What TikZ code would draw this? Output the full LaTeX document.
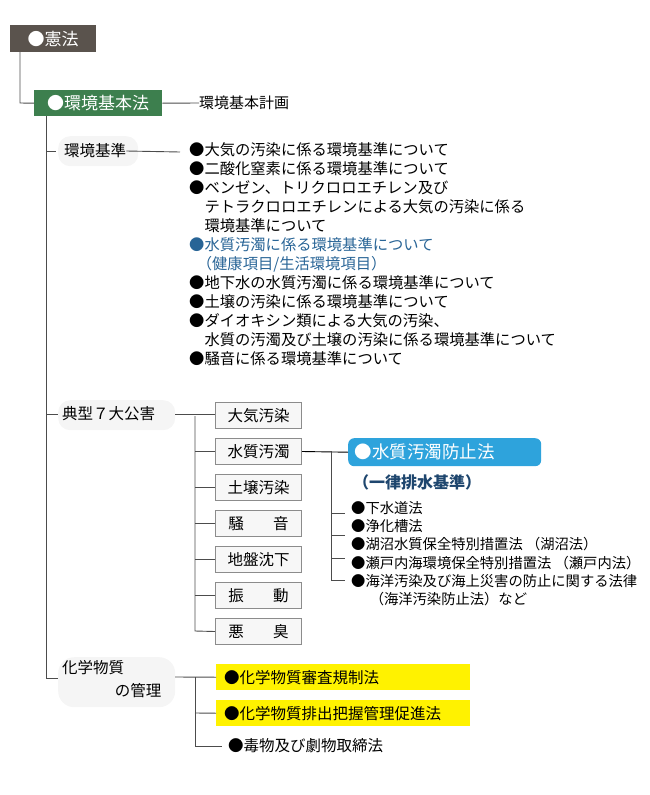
\documentclass[tikz,border=0pt]{standalone}
\usepackage{fontspec}
\setmainfont{Noto Sans CJK JP}
\begin{document}
\begin{tikzpicture}[x=1pt,y=-1pt,font=\fontsize{15.5}{17}\selectfont,
  ln/.style={draw=black!70,line width=0.9pt},
  pill/.style={fill=black!4,rounded corners=12pt,anchor=north west},
  kbox/.style={draw=black!45,fill=black!3,line width=1pt,minimum width=86pt,minimum height=26pt,anchor=north west,inner sep=0pt},
  ybox/.style={fill=yellow,minimum width=254pt,minimum height=26pt,anchor=north west,inner sep=0pt,text width=238pt},
  it/.style={anchor=west,inner sep=0pt}]
\useasboundingbox (0,0) rectangle (650,795);
\node[fill={rgb,255:red,90;green,83;blue,77},text=white,minimum width=86pt,minimum height=27pt,anchor=north west,inner sep=0pt,font=\fontsize{17}{19}\selectfont] (kenpo) at (10,25) {●憲法};
\node[fill={rgb,255:red,61;green,127;blue,78},text=white,minimum width=128pt,minimum height=26pt,anchor=north west,inner sep=0pt,font=\fontsize{17}{19}\selectfont] (kihon) at (34,90) {●環境基本法};
\node[it,font=\fontsize{15}{17}\selectfont] (keikaku) at (199,103) {環境基本計画};
\draw[ln] (20,52) -- (20,103) -- (kihon.west);
\draw[ln] (kihon.east) -- (keikaku.west);
\draw[ln] (46,116) -- (46,678);
% 環境基準
\node[pill,minimum width=80pt,minimum height=30pt] (kijun) at (58,136) {};
\node[it] (kijunt) at (64,151) {環境基準};
\draw[ln] (46,151) -- (56,151);
\draw[ln] (kijunt.east) -- (180,152);
\node[it,anchor=north west,align=left,font=\fontsize{15.3}{19}\selectfont] (list) at (189,142) {●大気の汚染に係る環境基準について\\●二酸化窒素に係る環境基準について\\●ベンゼン、トリクロロエチレン及び\\\hspace{1em}テトラクロロエチレンによる大気の汚染に係る\\\hspace{1em}環境基準について\\\textcolor[RGB]{40,100,150}{●水質汚濁に係る環境基準について}\\\textcolor[RGB]{40,100,150}{\hspace{0.5em}（健康項目/生活環境項目）}\\●地下水の水質汚濁に係る環境基準について\\●土壌の汚染に係る環境基準について\\●ダイオキシン類による大気の汚染、\\\hspace{1em}水質の汚濁及び土壌の汚染に係る環境基準について\\●騒音に係る環境基準について};
% 典型7大公害
\node[pill,minimum width=117pt,minimum height=30pt] (kogai) at (58,400) {};
\node[it] (kogait) at (62,414) {典型７大公害};
\draw[ln] (46,414) -- (58,414);
\draw[ln] (175,414) -- (215,414);
\foreach \n/\t/\y in {a/大気汚染/402,b/水質汚濁/438,c/土壌汚染/474,d/騒\hspace{1.9em}音/510,e/地盤沈下/546,f/振\hspace{1.9em}動/582,g/悪\hspace{1.9em}臭/618}{
  \node[kbox] (\n) at (215,\y) {\t};
}
\draw[ln] (195,416) -- (195,631) -- (g.west);
\foreach \n in {b,c,d,e,f}{\draw[ln] (\n.west) -- (\n.west -| 195,0);}
\node[fill={rgb,255:red,46;green,163;blue,220},text=white,rounded corners=6pt,minimum width=193pt,minimum height=28pt,anchor=north west,inner sep=0pt,text width=180pt,font=\fontsize{17.5}{19}\selectfont] (suishitsu) at (348,438) {●水質汚濁防止法};
\draw[ln,black] (b.east) -- (suishitsu.west);
\node[it,font=\bfseries\fontsize{16}{18}\selectfont,text={rgb,255:red,30;green,70;blue,110}] (ichiritsu) at (353,482) {（一律排水基準）};
\node[it,anchor=north west,align=left,font=\fontsize{14.3}{18.3}\selectfont] (sub) at (351,501) {●下水道法\\●浄化槽法\\●湖沼水質保全特別措置法 （湖沼法）\\●瀬戸内海環境保全特別措置法 （瀬戸内法）\\●海洋汚染及び海上災害の防止に関する法律\\\hspace{1.3em}（海洋汚染防止法）など};
\draw[ln] (331,451) -- (331,580) -- (345,580);
\foreach \y in {513,535,558}{\draw[ln] (331,\y) -- (345,\y);}
% 化学物質
\node[pill,minimum width=117pt,minimum height=50pt,rounded corners=16pt] (kagaku) at (58,657) {};
\node[it,anchor=north west,align=left,font=\fontsize{15.5}{23}\selectfont] (kagakut) at (62,660) {化学物質\\\hspace{3.4em}の管理};
\draw[ln] (46,678) -- (58,678);
\node[ybox] (y1) at (216,664) {●化学物質審査規制法};
\node[ybox] (y2) at (216,700) {●化学物質排出把握管理促進法};
\node[it] (doku) at (228,746) {●毒物及び劇物取締法};
\draw[ln] (175,677) -- (y1.west);
\draw[ln] (195,677) -- (195,746) -- (222,746);
\draw[ln] (195,713) -- (y2.west);
\end{tikzpicture}
\end{document}
